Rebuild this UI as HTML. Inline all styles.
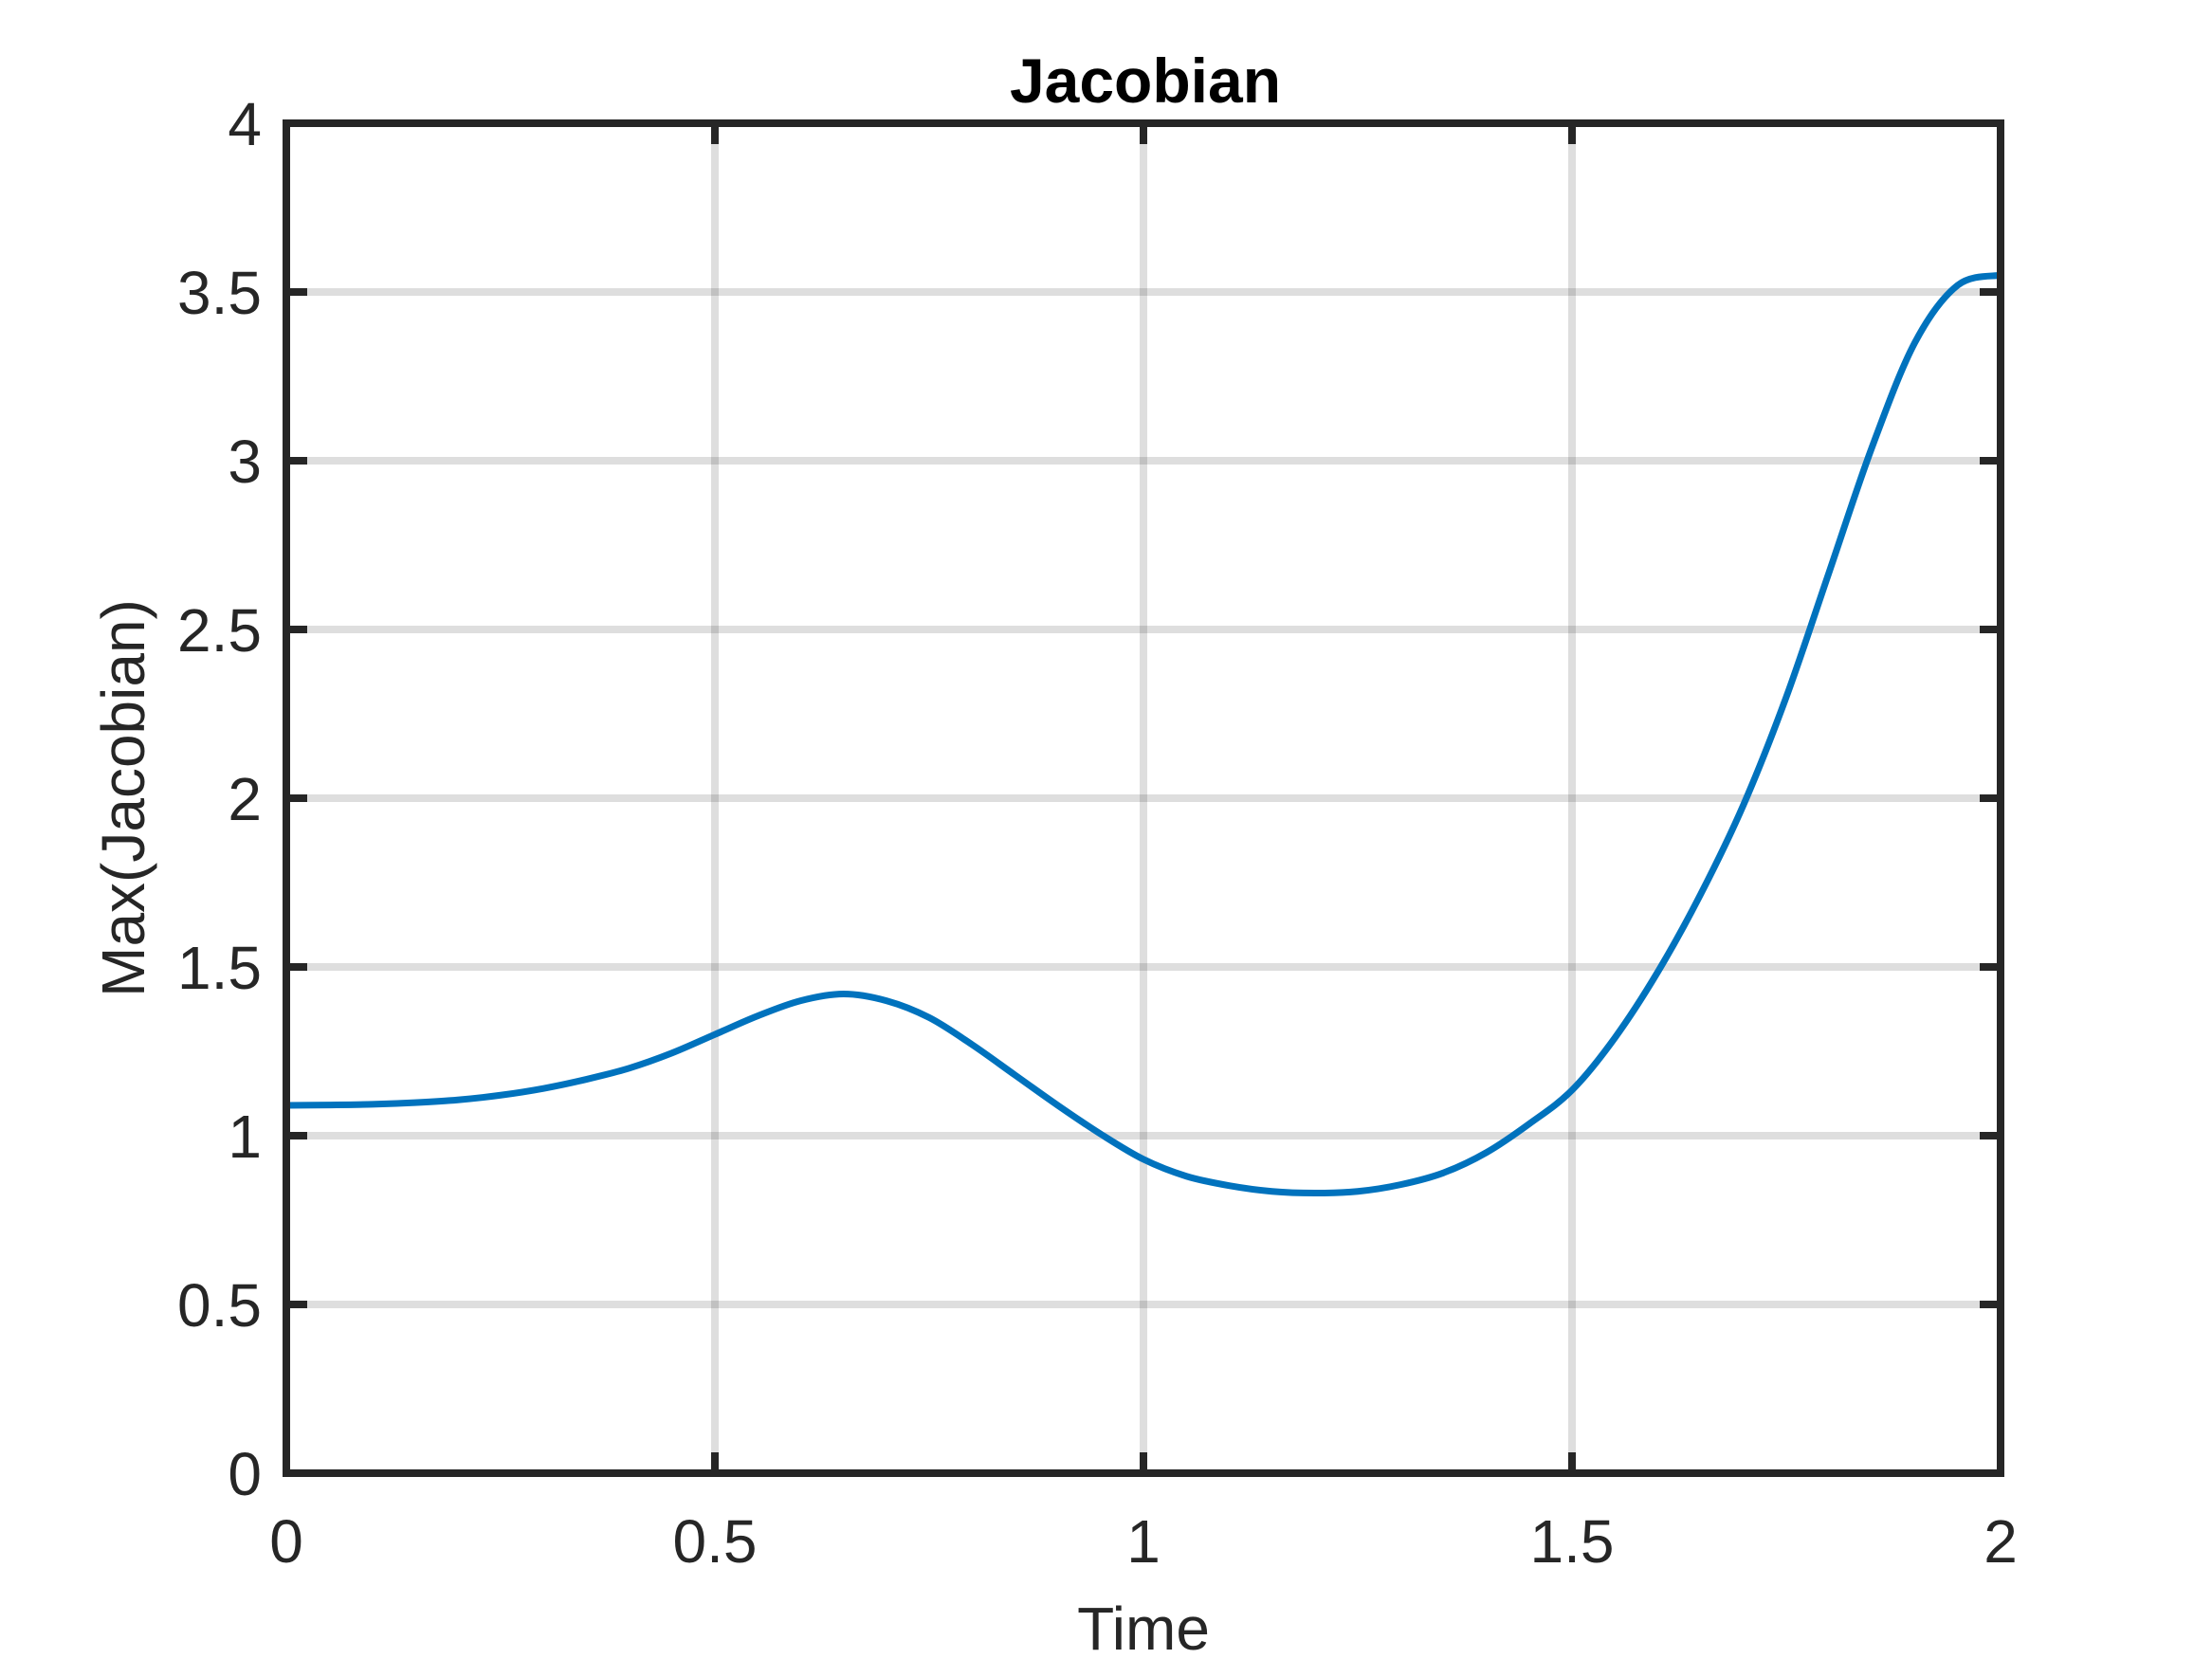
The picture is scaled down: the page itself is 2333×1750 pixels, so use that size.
<!DOCTYPE html>
<html><head><meta charset="utf-8">
<style>body{margin:0;background:#fff}svg{display:block;font-family:"Liberation Sans",Arial,sans-serif}</style>
</head><body>
<svg id="chart" width="2333" height="1750" viewBox="0 0 2333 1750" xmlns="http://www.w3.org/2000/svg">
<rect width="2333" height="1750" fill="#fff"/>
<g id="grid"></g>
<g id="series"></g>
<g id="axes"></g>
<text x="1208" y="108" text-anchor="middle" font-size="66" font-weight="bold" fill="#000">Jacobian</text>
<text x="1206" y="1740" text-anchor="middle" font-size="64" fill="#262626">Time</text>
<text transform="translate(152,842) rotate(-90)" text-anchor="middle" font-size="64" fill="#262626">Max(Jacobian)</text>
</svg>
<script>
const xTicks = [0, 0.5, 1, 1.5, 2];
const xTickLabels = ["0", "0.5", "1", "1.5", "2"];
const yTicks = [0, 0.5, 1, 1.5, 2, 2.5, 3, 3.5, 4];
const yTickLabels = ["0", "0.5", "1", "1.5", "2", "2.5", "3", "3.5", "4"];
const timeValues = [0,0.05,0.1,0.15,0.2,0.25,0.3,0.35,0.4,0.45,0.5,0.55,0.6,0.65,0.7,0.75,0.8,0.85,0.9,0.95,1.0,1.05,1.1,1.15,1.2,1.25,1.3,1.35,1.4,1.45,1.5,1.55,1.6,1.65,1.7,1.75,1.8,1.85,1.9,1.95,2.0];
const jacobianValues = [1.09,1.091,1.093,1.098,1.106,1.12,1.14,1.167,1.20,1.245,1.30,1.355,1.40,1.42,1.40,1.35,1.27,1.18,1.09,1.005,0.93,0.88,0.852,0.835,0.83,0.835,0.855,0.89,0.95,1.035,1.135,1.29,1.485,1.715,1.98,2.30,2.67,3.04,3.35,3.52,3.55];

const L=302,R=2110,T=130,B=1554;
const xs=v=>L+(v-0)/(2-0)*(R-L);
const ys=v=>B-(v-0)/(4-0)*(B-T);
const NS="http://www.w3.org/2000/svg";
function mk(tag,attrs,parent){const e=document.createElementNS(NS,tag);for(const k in attrs)e.setAttribute(k,attrs[k]);parent.appendChild(e);return e;}
const grid=document.getElementById('grid'),axes=document.getElementById('axes'),series=document.getElementById('series');
xTicks.forEach((t,i)=>{
  const g=mk('line',{x1:xs(t),x2:xs(t),y1:T,y2:B,stroke:'#000','stroke-opacity':0.13,'stroke-width':8},grid);
  
  
  const a=mk('line',{x1:xs(t),x2:xs(t),y1:B,y2:B-22,stroke:'#262626','stroke-width':8},axes);
  
  
  const b=mk('line',{x1:xs(t),x2:xs(t),y1:T,y2:T+22,stroke:'#262626','stroke-width':8},axes);
  
  
  const tx=mk('text',{x:xs(t),y:1648,'text-anchor':'middle','font-size':64,fill:'#262626'},axes);
  tx.textContent=xTickLabels[i];
  
  
});
yTicks.forEach((t,i)=>{
  const g=mk('line',{x1:L,x2:R,y1:ys(t),y2:ys(t),stroke:'#000','stroke-opacity':0.13,'stroke-width':8},grid);
  
  
  const a=mk('line',{x1:L,x2:L+22,y1:ys(t),y2:ys(t),stroke:'#262626','stroke-width':8},axes);
  
  
  const b=mk('line',{x1:R,x2:R-22,y1:ys(t),y2:ys(t),stroke:'#262626','stroke-width':8},axes);
  
  
  const tx=mk('text',{x:276,y:ys(t)+23,'text-anchor':'end','font-size':64,fill:'#262626'},axes);
  tx.textContent=yTickLabels[i];
  
  
});
const box=mk('rect',{x:L,y:T,width:R-L,height:B-T,fill:'none',stroke:'#262626','stroke-width':8},axes);


const P=timeValues.map((t,i)=>[xs(t),ys(jacobianValues[i])]);
let d='M'+P[0][0]+','+P[0][1];
for(let i=0;i<P.length-1;i++){
  const p0=P[Math.max(0,i-1)],p1=P[i],p2=P[i+1],p3=P[Math.min(P.length-1,i+2)];
  const c1=[p1[0]+(p2[0]-p0[0])/6,p1[1]+(p2[1]-p0[1])/6];
  const c2=[p2[0]-(p3[0]-p1[0])/6,p2[1]-(p3[1]-p1[1])/6];
  d+=' C'+c1[0]+','+c1[1]+' '+c2[0]+','+c2[1]+' '+p2[0]+','+p2[1];
}
const line=mk('path',{d:d,fill:'none',stroke:'#0072bd','stroke-width':7,'stroke-linejoin':'round'},series);


</script>
</body></html>
